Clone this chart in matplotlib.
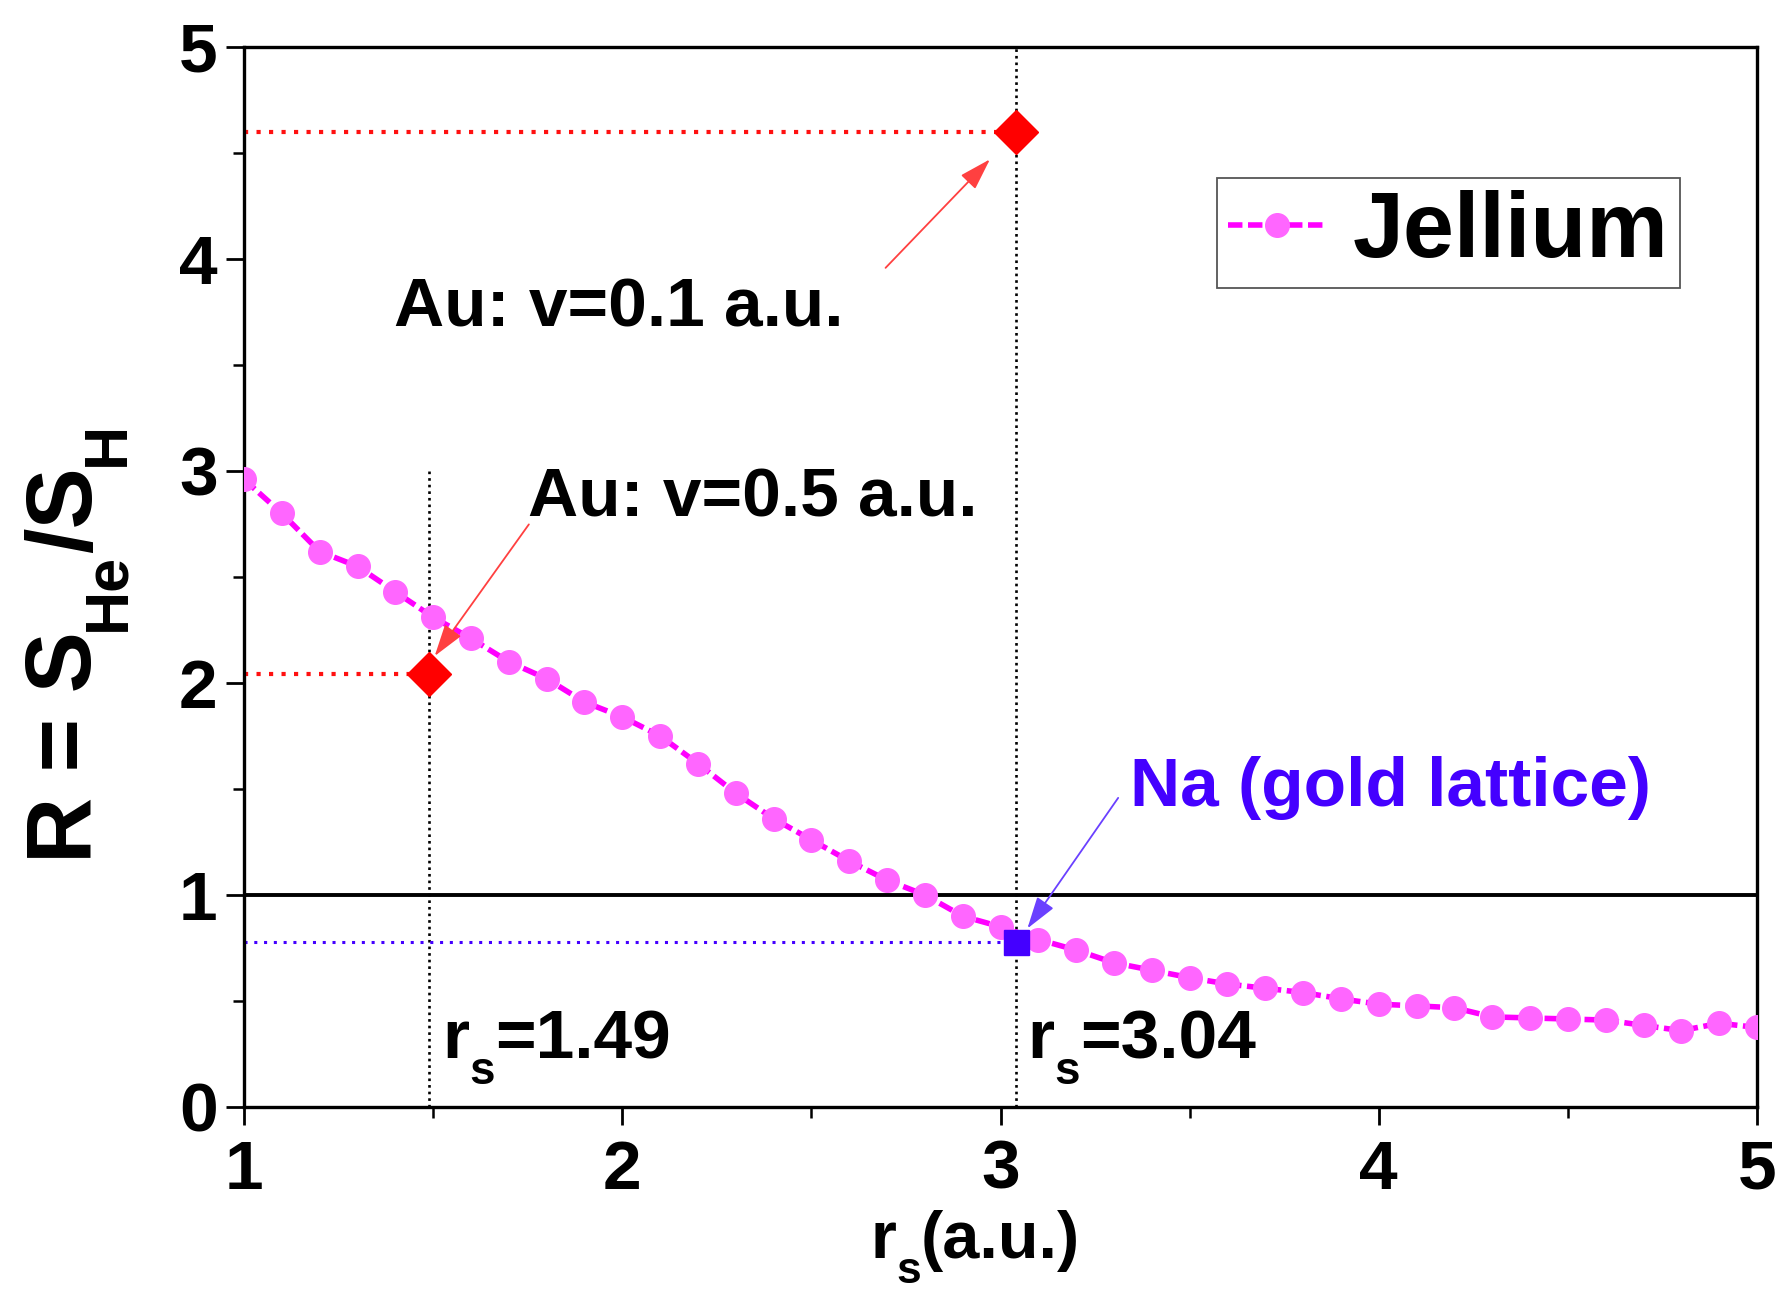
import matplotlib
matplotlib.use("Agg")
import matplotlib.pyplot as plt
import matplotlib.transforms as mtransforms

plt.rcParams['font.family'] = ['Liberation Sans', 'DejaVu Sans']
plt.rcParams['font.weight'] = 'bold'

# ---- data ----
rs = [1.0, 1.1, 1.2, 1.3, 1.4, 1.5, 1.6, 1.7, 1.8, 1.9, 2.0,
      2.1, 2.2, 2.3, 2.4, 2.5, 2.6, 2.7, 2.8, 2.9, 3.0,
      3.1, 3.2, 3.3, 3.4, 3.5, 3.6, 3.7, 3.8, 3.9, 4.0,
      4.1, 4.2, 4.3, 4.4, 4.5, 4.6, 4.7, 4.8, 4.9, 5.0]
R_jellium = [2.96, 2.80, 2.62, 2.55, 2.43, 2.31, 2.21, 2.10, 2.02, 1.91, 1.84,
             1.75, 1.62, 1.48, 1.36, 1.26, 1.16, 1.07, 1.00, 0.90, 0.85,
             0.79, 0.74, 0.68, 0.645, 0.61, 0.58, 0.56, 0.54, 0.51, 0.485,
             0.477, 0.468, 0.425, 0.42, 0.415, 0.41, 0.385, 0.36, 0.395, 0.375]
au_rs = [1.49, 3.04]
au_R = [2.04, 4.60]
au_vline_top = [3.0, 5.0]
na_rs = 3.04
na_R = 0.78
xticks = [1, 2, 3, 4, 5]
yticks = [0, 1, 2, 3, 4, 5]

fig = plt.figure(figsize=(17.8, 12.97), dpi=100)
ax = fig.add_axes([0.1371, 0.1465, 0.850, 0.8173])
ax.set_xlim(1, 5)
ax.set_ylim(0, 5)

# reference lines
ax.axhline(1.0, color='black', lw=2.8, zorder=2)
for x, top in zip(au_rs, au_vline_top):
    ax.plot([x, x], [0, top], color='black', lw=1.9, ls=(0, (1, 1.5)), zorder=2)
for x, y in zip(au_rs, au_R):
    ax.plot([1, x], [y, y], color='#ff1010', lw=3.0, ls=(0, (1, 2.0)), zorder=2)
ax.plot([1, na_rs], [na_R, na_R], color='#4400ff', lw=2.2, ls=(0, (1, 2.2)), zorder=2)

# jellium curve
ax.plot(rs, R_jellium, color='#ff00ff', lw=4.0, ls=(0, (2.6, 1.0)),
        marker='o', markersize=17, markerfacecolor='#ff66ff',
        markeredgecolor='#ff66ff', label='Jellium', zorder=3)

# special points
ax.plot(au_rs, au_R, ls='none', marker='D', markersize=22, color='#ff0000', zorder=5)
ax.plot([na_rs], [na_R], ls='none', marker='s', markersize=18, color='#4400ff', zorder=5)

# arrows
def arrow(tail, tip, color):
    ax.annotate('', xy=tip, xytext=tail,
                arrowprops=dict(arrowstyle='-|>,head_length=0.9,head_width=0.28',
                                color=color, lw=1.3, shrinkA=0, shrinkB=0,
                                mutation_scale=22), zorder=6)

arrow((2.696, 3.958), (2.972, 4.47), '#ff4040')
arrow((1.753, 2.748), (1.504, 2.127), '#ff4040')
arrow((3.311, 1.458), (3.071, 0.842), '#6a40ff')

ax.text(1.397, 3.68, 'Au: v=0.1 a.u.', fontsize=50, fontweight='bold', color='black')
ax.text(1.751, 2.785, 'Au: v=0.5 a.u.', fontsize=50, fontweight='bold', color='black')
ax.text(3.341, 1.42, 'Na (gold lattice)', fontsize=50, fontweight='bold', color='#4400ff')

# ticks / spines
for sp in ax.spines.values():
    sp.set_linewidth(2.4)
ax.set_xticks(xticks)
ax.set_yticks(yticks)
ax.set_xticks([1.5, 2.5, 3.5, 4.5], minor=True)
ax.set_yticks([0.5, 1.5, 2.5, 3.5, 4.5], minor=True)
ax.tick_params(which='major', direction='out', length=13, width=2.0, labelsize=50, pad=6)
ax.tick_params(axis='x', which='major', pad=10)
ax.tick_params(which='minor', direction='out', length=8, width=1.8)
for lab in ax.get_xticklabels() + ax.get_yticklabels():
    lab.set_fontweight('bold')

leg = ax.legend(loc='upper right', bbox_to_anchor=(0.949, 0.876), borderaxespad=0,
                handlelength=1.05, handletextpad=0.3, borderpad=0.13,
                fancybox=False, framealpha=1, edgecolor='#555555',
                prop={'weight': 'bold', 'size': 66})
leg.get_frame().set_linewidth(1.3)

# rich text with dropped subscripts
fig.canvas.draw()
renderer = fig.canvas.get_renderer()

def rich(x, y, parts, transform, color='black', rotation=0):
    adv = 0.0
    for s, size, drop in parts:
        if rotation == 0:
            ox, oy = adv, drop
        else:
            ox, oy = -drop, adv
        tr = mtransforms.offset_copy(transform, fig=fig, x=ox, y=oy, units='points')
        t = fig.text(x, y, s, transform=tr, fontsize=size, fontweight='bold',
                     color=color, ha='left', va='baseline', rotation=rotation,
                     rotation_mode='anchor')
        bb = t.get_window_extent(renderer)
        adv += (bb.width if rotation == 0 else bb.height) * 72.0 / fig.dpi

rich(1.525, 0.231, [('r', 50, 0), ('s', 33, -19), ('=1.49', 50, 0)], ax.transData)
rich(3.071, 0.231, [('r', 50, 0), ('s', 33, -19), ('=3.04', 50, 0)], ax.transData)
rich(0.489, 0.030, [('r', 48, 0), ('s', 32, -18), ('(a.u.)', 48, 0)], fig.transFigure)
rich(0.0511, 0.3346, [('R = S', 66, 0), ('He', 44, -24), ('/S', 66, 0), ('H', 44, -24)],
     fig.transFigure, rotation=90)

fig.savefig('out.png', dpi=100)
